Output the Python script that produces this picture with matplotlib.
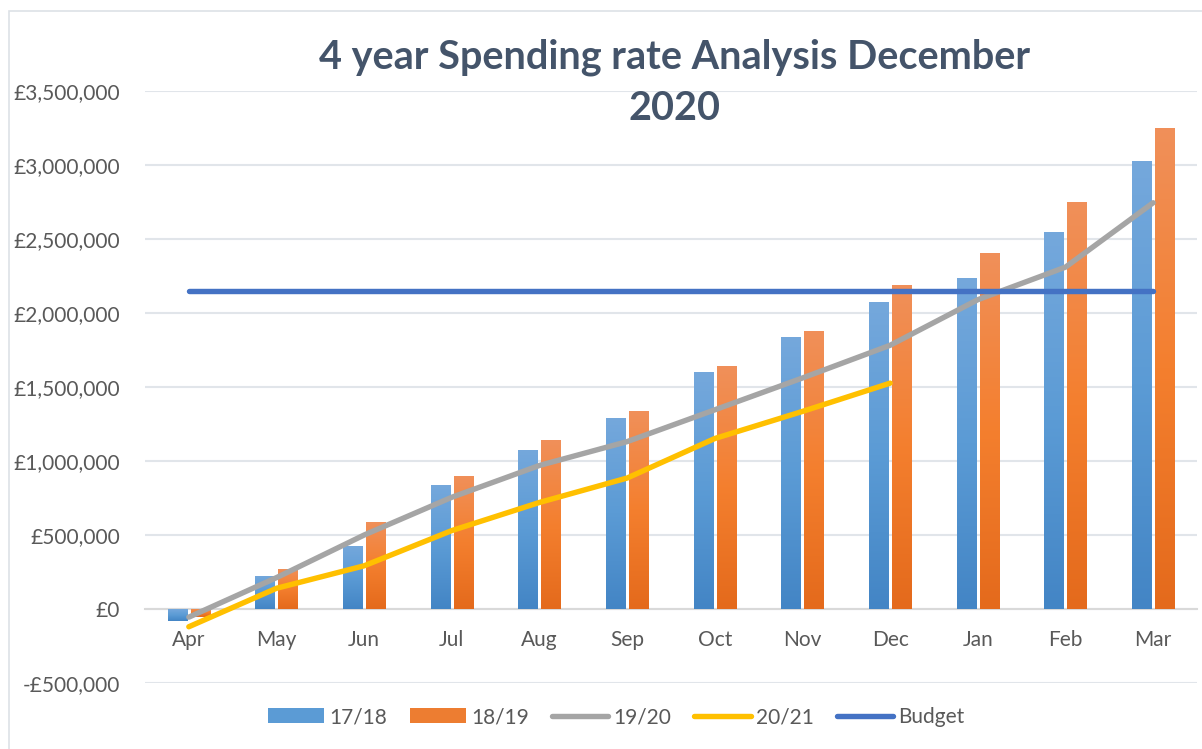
import matplotlib
matplotlib.use("Agg")
import matplotlib.pyplot as plt
import numpy as np
from matplotlib.colors import LinearSegmentedColormap
from matplotlib.patches import Rectangle
from matplotlib.lines import Line2D
from matplotlib.ticker import FuncFormatter, MultipleLocator

months = ["Apr", "May", "Jun", "Jul", "Aug", "Sep", "Oct", "Nov", "Dec", "Jan", "Feb", "Mar"]
s1718 = [-79000, 224000, 427000, 841000, 1077000, 1292000, 1600000, 1840000, 2075000, 2237000, 2550000, 3030000]
s1819 = [-55000, 271000, 590000, 902000, 1140000, 1340000, 1640000, 1880000, 2190000, 2406000, 2750000, 3250000]
s1920 = [-55000, 212000, 500000, 755000, 970000, 1131000, 1346000, 1561000, 1782000, 2090000, 2310000, 2745000]
s2021 = [-120000, 140000, 292000, 530000, 720000, 885000, 1152000, 1335000, 1526000]
budget = [2150000] * 12

plt.rcParams['font.family'] = ['Lato', 'DejaVu Sans']

W, H = 1202, 749
fig = plt.figure(figsize=(W / 100, H / 100), dpi=100)
fig.patch.set_facecolor('white')

# chart border (left and top visible)
fig.patches.append(Rectangle((8.5 / W, -0.01), 1.05, 1 - 11 / H + 0.01, transform=fig.transFigure,
                             fill=False, edgecolor='#DDE1E6', linewidth=1.2, zorder=0))

ax = fig.add_axes([145 / W, 1 - 683 / H, (1197 - 145) / W, (683 - 91) / H])
ax.set_xlim(-0.5, 11.5)
ax.set_ylim(-500000, 3500000)

x = np.arange(len(months))
bw = 0.22
gap = 0.045
off = (bw + gap) / 2

blue_cmap = LinearSegmentedColormap.from_list('b', ['#4385C5', '#5B9BD5', '#75A8DC'])
orange_cmap = LinearSegmentedColormap.from_list('o', ['#E46A1C', '#F47F2E', '#F0905A'])

def gradient_bars(xs, vals, cmap, color):
    bars = ax.bar(xs, vals, width=bw, color=color, zorder=2, linewidth=0)
    grad = np.linspace(0, 1, 256).reshape(-1, 1)
    for b in bars:
        x0 = b.get_x()
        y0 = b.get_y()
        h = b.get_height()
        ylo, yhi = min(y0, y0 + h), max(y0, y0 + h)
        if h >= 0:
            yb, yt = 0, yhi
        else:
            yb, yt = ylo, 0
        im = ax.imshow(grad, extent=[x0, x0 + bw, yb, yt], origin='lower', cmap=cmap,
                       aspect='auto', zorder=2.1, interpolation='bilinear')
        im.set_clip_path(b)
    return bars

gradient_bars(x - off, s1718, blue_cmap, '#5B9BD5')
gradient_bars(x + off, s1819, orange_cmap, '#ED7D31')

LW = 3.9
ax.plot(x, s1920, color='#A5A5A5', lw=LW, solid_capstyle='round', solid_joinstyle='round', zorder=3)
ax.plot(x[:len(s2021)], s2021, color='#FFC000', lw=LW, solid_capstyle='round', solid_joinstyle='round', zorder=3)
ax.plot(x, budget, color='#4472C4', lw=LW, solid_capstyle='round', zorder=3)

ax.set_xlim(-0.5, 11.5)
ax.set_ylim(-500000, 3500000)

# grid and axes
ax.yaxis.set_major_locator(MultipleLocator(500000))
ax.grid(axis='y', color='#E1E5EA', linewidth=1.5, zorder=0)
ax.set_axisbelow(True)
for sp in ['top', 'right', 'left']:
    ax.spines[sp].set_visible(False)
ax.spines['bottom'].set_position(('data', 0))
ax.spines['bottom'].set_color('#D9D9D9')
ax.spines['bottom'].set_linewidth(1.5)
ax.spines['bottom'].set_zorder(1)

def fmt(v, pos):
    if v < 0:
        return "-£{:,.0f}".format(-v)
    return "£{:,.0f}".format(v)

ax.yaxis.set_major_formatter(FuncFormatter(fmt))
ax.set_xticks(x)
ax.set_xticklabels(months)
ax.tick_params(axis='both', length=0, labelsize=15, labelcolor='#595959')
ax.tick_params(axis='x', pad=15)
ax.tick_params(axis='y', pad=18)

fig.text(675 / W, 1 - 83 / H, "4 year Spending rate Analysis December\n2020", ha='center', va='center',
         fontsize=28.5, fontweight='bold', color='#44546A', linespacing=1.45)

handles = [
    Rectangle((0, 0), 1, 1, facecolor='#5B9BD5'),
    Rectangle((0, 0), 1, 1, facecolor='#ED7D31'),
    Line2D([0], [0], color='#A5A5A5', lw=LW, solid_capstyle='round'),
    Line2D([0], [0], color='#FFC000', lw=LW, solid_capstyle='round'),
    Line2D([0], [0], color='#4472C4', lw=LW, solid_capstyle='round'),
]
labels = ["17/18", "18/19", "19/20", "20/21", "Budget"]
leg = fig.legend(handles, labels, loc='center', bbox_to_anchor=(616 / W, 1 - 717 / H), ncol=5,
                 frameon=False, fontsize=15, handlelength=2.7, handletextpad=0.25, columnspacing=1.1)
for t in leg.get_texts():
    t.set_color('#595959')

fig.savefig('out.png', dpi=100, facecolor='white')
